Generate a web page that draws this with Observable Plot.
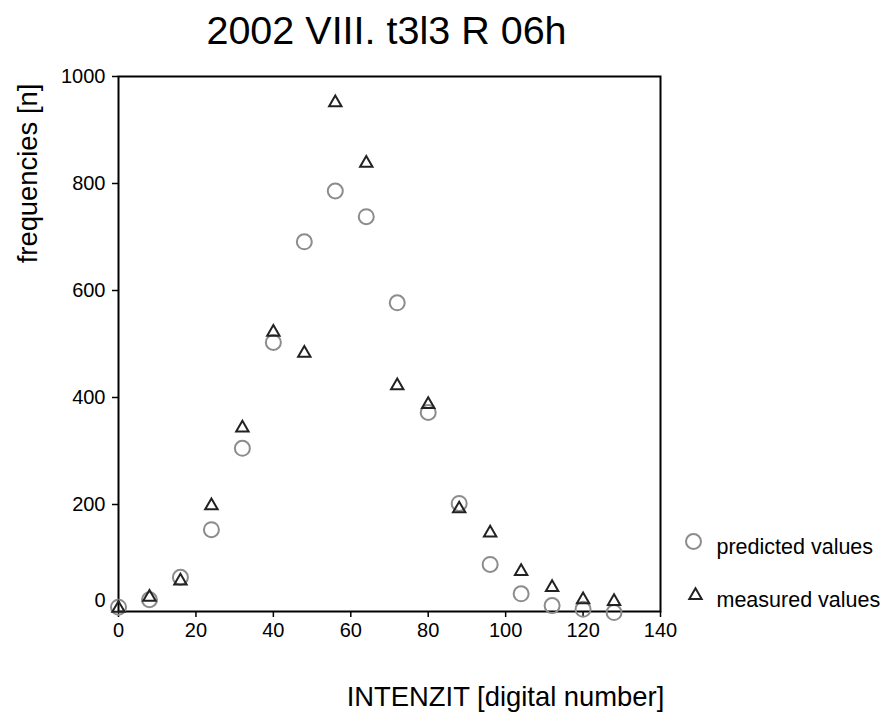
<!DOCTYPE html>
<html><head><meta charset="utf-8">
<script src="https://cdn.jsdelivr.net/npm/d3@7"></script>
<script src="https://cdn.jsdelivr.net/npm/@observablehq/plot@0.6"></script>
<style>body{margin:0;background:#fff}</style>
</head><body><div id="chart"></div>
<script>
const intensity = [0, 8, 16, 24, 32, 40, 48, 56, 64, 72, 80, 88, 96, 104, 112, 120, 128];
const predicted = [8, 22, 64, 153, 305, 503, 691, 786, 738, 577, 372, 202, 88, 33, 11, 4, -2];
const measured  = [6, 27, 57, 198, 343, 522, 483, 951, 838, 422, 387, 192, 147, 75, 45, 22, 19];
const xTicks = [0, 20, 40, 60, 80, 100, 120, 140];
const yTicks = [200, 400, 600, 800, 1000];
const yZeroTick = [0];
const seriesNames = ["predicted values", "measured values"];
const title = "2002 VIII. t3l3 R 06h";
const xLabel = "INTENZIT [digital number]";
const yLabel = "frequencies [n]";

const rows = intensity.map((x, i) => ({x, predicted: predicted[i], measured: measured[i]}));
const font = "'Liberation Sans', Arial, sans-serif";
const circleColor = "#8c8c8c";
const triColor = "#222222";
const fmt = d => String(d);

const chart = Plot.plot({
  width: 883,
  height: 715,
  marginLeft: 118,
  marginRight: 223,
  marginTop: 76,
  marginBottom: 104,
  style: {fontFamily: font, fontSize: "20px", background: "white", color: "black"},
  x: {domain: [0, 140]},
  y: {domain: [0, 1000]},
  marks: [
    Plot.axisX({ticks: xTicks, tickFormat: fmt, tickSize: 6, tickPadding: 5, label: null, strokeWidth: 1.5}),
    Plot.axisY({ticks: yTicks, tickFormat: fmt, tickSize: 6, tickPadding: 7, label: null, strokeWidth: 1.5}),
    Plot.text(yZeroTick, {y: d => d, text: fmt, frameAnchor: "left", dx: -13, dy: -11, textAnchor: "end", lineAnchor: "middle", fontSize: 20, fill: "black"}),
    Plot.frame({stroke: "black", strokeWidth: 2}),
    Plot.dot(rows, {x: "x", y: "predicted", r: 7.5, stroke: circleColor, strokeWidth: 2, fill: "none"}),
    Plot.dot(rows, {x: "x", y: "measured", symbol: "triangle", r: 4.6, stroke: triColor, strokeWidth: 2, fill: "none"}),
    Plot.text([title], {text: d => d, frameAnchor: "top", textAnchor: "middle", lineAnchor: "middle", dx: -3, dy: -45, fontSize: 39.5, fill: "black"}),
    Plot.text([xLabel], {text: d => d, frameAnchor: "bottom", textAnchor: "middle", lineAnchor: "middle", dx: 116, dy: 86, fontSize: 27.4, fill: "black"}),
    Plot.text([yLabel], {text: d => d, frameAnchor: "top-left", textAnchor: "middle", lineAnchor: "middle", dx: -90, dy: 97, rotate: -90, fontSize: 27.4, fill: "black"}),
    Plot.dot([seriesNames[0]], {frameAnchor: "bottom-right", dx: 33, dy: -70, r: 7.5, stroke: circleColor, strokeWidth: 2, fill: "none"}),
    Plot.dot([seriesNames[1]], {frameAnchor: "bottom-right", dx: 35, dy: -16, symbol: "triangle", r: 4.6, stroke: triColor, strokeWidth: 2, fill: "none"}),
    Plot.text([seriesNames[0]], {text: d => d, frameAnchor: "bottom-right", dx: 56, dy: -64, textAnchor: "start", lineAnchor: "middle", fontSize: 21.5, fill: "black"}),
    Plot.text([seriesNames[1]], {text: d => d, frameAnchor: "bottom-right", dx: 56, dy: -11, textAnchor: "start", lineAnchor: "middle", fontSize: 21.5, fill: "black"})
  ]
});
document.getElementById("chart").appendChild(chart);
</script>
</body></html>
